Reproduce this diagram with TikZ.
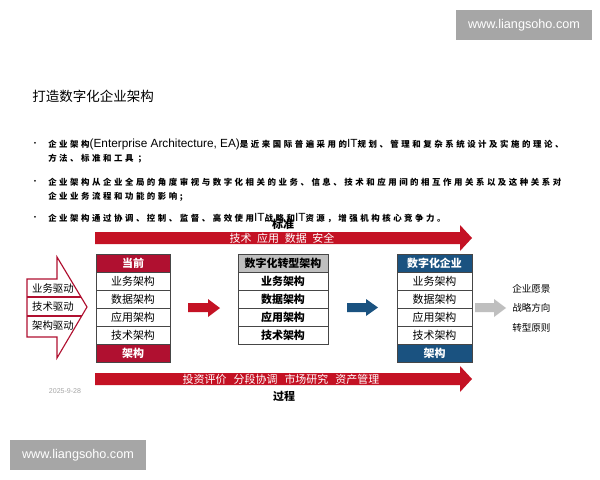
\documentclass[tikz,border=0pt]{standalone}
\usepackage{fontspec}
\usepackage{tikz}
\usetikzlibrary{positioning}
\setmainfont{Noto Sans CJK SC}
\newfontfamily\latinfont{Liberation Sans}
\newfontfamily\bulletfont[LetterSpace=30]{Noto Sans CJK SC}
\newcommand{\latinpart}[1]{{\latinfont\mdseries\fontsize{8.4pt}{8pt}\selectfont #1}}
\definecolor{arrowred}{RGB}{196,18,36}
\definecolor{headred}{RGB}{176,16,48}
\definecolor{headblue}{RGB}{26,82,128}
\definecolor{headgray}{RGB}{191,191,191}
\definecolor{markgray}{RGB}{166,166,166}
\definecolor{linegray}{RGB}{70,70,70}

\tikzset{
  cell/.style={draw=linegray, line width=0.5pt, fill=white, inner sep=0pt, outer sep=0pt,
    minimum height=0.45cm, font=\fontsize{7.8pt}{8pt}\selectfont},
  redhead/.style={cell, fill=headred, text=white, font=\fontsize{7.8pt}{8pt}\selectfont\bfseries},
  bluehead/.style={cell, fill=headblue, text=white, font=\fontsize{7.8pt}{8pt}\selectfont\bfseries},
  grayhead/.style={cell, fill=headgray, font=\fontsize{7.8pt}{8pt}\selectfont\bfseries},
  boldcell/.style={cell, font=\fontsize{7.8pt}{8pt}\selectfont\bfseries},
  bullettext/.style={anchor=west, inner sep=0pt, font=\fontsize{6pt}{6pt}\bulletfont\bfseries},
  bulletdot/.style={inner sep=0pt, font=\fontsize{6pt}{6pt}\selectfont},
  watermark/.style={fill=markgray, text=white, inner sep=0pt, minimum width=3.4cm,
    minimum height=0.75cm, font=\fontsize{9pt}{10pt}\latinfont},
  sidetext/.style={inner sep=0pt, font=\fontsize{7.4pt}{8pt}\selectfont},
  goaltext/.style={anchor=west, inner sep=0pt, font=\fontsize{6.8pt}{8pt}\selectfont},
  bandtext/.style={inner sep=0pt, text=white, font=\fontsize{7.8pt}{8pt}\selectfont},
  bandlabel/.style={inner sep=0pt, font=\fontsize{7.8pt}{8pt}\selectfont\bfseries}
}

\begin{document}
\begin{tikzpicture}[x=0.025cm, y=-0.025cm]
    % Page
    \fill[white] (0,0) rectangle (600,480);
    \useasboundingbox (0,0) rectangle (600,480);

    % Watermarks
    \node[watermark] (marktop) at (524,25) {www.liangsoho.com};
    \node[watermark] (markbot) at (78,455) {www.liangsoho.com};

    % Title
    \node[anchor=west, inner sep=0pt, font=\fontsize{9.6pt}{10pt}\selectfont] (title) at (32,96) {打造数字化企业架构};

    % Bullet list
    \node[bulletdot] (dot1) at (35,144) {•};
    \node[bullettext] (line1) at (48,144) {企业架构\latinpart{(Enterprise Architecture, EA)}是近来国际普遍采用的\latinpart{IT}规划、管理和复杂系统设计及实施的理论、};
    \node[bullettext] (line2) at (48,159) {方法、标准和工具 ；};
    \node[bulletdot] (dot2) at (35,182) {•};
    \node[bullettext] (line3) at (48,182) {企业架构从企业全局的角度审视与数字化相关的业务、信息、技术和应用间的相互作用关系以及这种关系对};
    \node[bullettext] (line4) at (48,197) {企业业务流程和功能的影响;};
    \node[bulletdot] (dot3) at (35,218) {•};
    \node[bullettext] (line5) at (48,218) {企业架构通过协调、控制、监督、高效使用\latinpart{IT}战略和\latinpart{IT}资源，增强机构核心竞争力。};

    % Top band arrow
    \fill[arrowred] (95,232) -- (460,232) -- (460,225) -- (472,238) -- (460,251) -- (460,244) -- (95,244) -- cycle;
    \node[bandtext] (standards) at (282,238) {技术\hspace{4pt}应用\hspace{4pt}数据\hspace{4pt}安全};
    \node[bandlabel] (stdlabel) at (283,224) {标准};

    % Bottom band arrow
    \fill[arrowred] (95,373) -- (460,373) -- (460,366) -- (472,379) -- (460,392) -- (460,385) -- (95,385) -- cycle;
    \node[bandtext] (process) at (281,379) {投资评价\hspace{5pt}分段协调\hspace{5pt}市场研究\hspace{5pt}资产管理};
    \node[bandlabel] (proclabel) at (284,396) {过程};
    \node[inner sep=0pt, text=markgray, font=\fontsize{5pt}{6pt}\latinfont] (date) at (65,391) {2025-9-28};

    % Driver arrow
    \draw[headred, line width=0.8pt, fill=white] (27,279) -- (57,279) -- (57,257) -- (87,307) -- (57,358) -- (57,337) -- (27,337) -- cycle;
    \draw[headred, line width=0.8pt] (27,297) -- (81,297);
    \draw[headred, line width=0.8pt] (27,316) -- (81.7,316);
    \node[sidetext] (drvbiz) at (53,289) {业务驱动};
    \node[sidetext] (drvtech) at (53,307) {技术驱动};
    \node[sidetext] (drvarch) at (53,326) {架构驱动};

    % Current architecture
    \node[redhead, minimum width=1.85cm] (cur) at (133,263) {当前};
    \node[cell, minimum width=1.85cm, below=0pt of cur] (curbiz) {业务架构};
    \node[cell, minimum width=1.85cm, below=0pt of curbiz] (curdata) {数据架构};
    \node[cell, minimum width=1.85cm, below=0pt of curdata] (curapp) {应用架构};
    \node[cell, minimum width=1.85cm, below=0pt of curapp] (curtech) {技术架构};
    \node[redhead, minimum width=1.85cm, below=0pt of curtech] (curfoot) {架构};

    % Transformation architecture
    \node[grayhead, minimum width=2.25cm] (trans) at (283,263) {数字化转型架构};
    \node[boldcell, minimum width=2.25cm, below=0pt of trans] (transbiz) {业务架构};
    \node[boldcell, minimum width=2.25cm, below=0pt of transbiz] (transdata) {数据架构};
    \node[boldcell, minimum width=2.25cm, below=0pt of transdata] (transapp) {应用架构};
    \node[boldcell, minimum width=2.25cm, below=0pt of transapp] (transtech) {技术架构};

    % Digital enterprise
    \node[bluehead, minimum width=1.875cm] (digi) at (434.5,263) {数字化企业};
    \node[cell, minimum width=1.875cm, below=0pt of digi] (digibiz) {业务架构};
    \node[cell, minimum width=1.875cm, below=0pt of digibiz] (digidata) {数据架构};
    \node[cell, minimum width=1.875cm, below=0pt of digidata] (digiapp) {应用架构};
    \node[cell, minimum width=1.875cm, below=0pt of digiapp] (digitech) {技术架构};
    \node[bluehead, minimum width=1.875cm, below=0pt of digitech] (digifoot) {架构};

    % Step arrows
    \fill[arrowred] (188,303) -- (208,303) -- (208,299) -- (220,308) -- (208,317) -- (208,312) -- (188,312) -- cycle;
    \fill[headblue] (347,303) -- (366,303) -- (366,299) -- (378,307.5) -- (366,316) -- (366,312) -- (347,312) -- cycle;
    \fill[headgray] (475,303) -- (494,303) -- (494,299) -- (506,308) -- (494,317) -- (494,312) -- (475,312) -- cycle;

    % Goals
    \node[goaltext] (vision) at (512,289) {企业愿景};
    \node[goaltext] (strategy) at (512,308) {战略方向};
    \node[goaltext] (principle) at (512,328) {转型原则};
\end{tikzpicture}
\end{document}
